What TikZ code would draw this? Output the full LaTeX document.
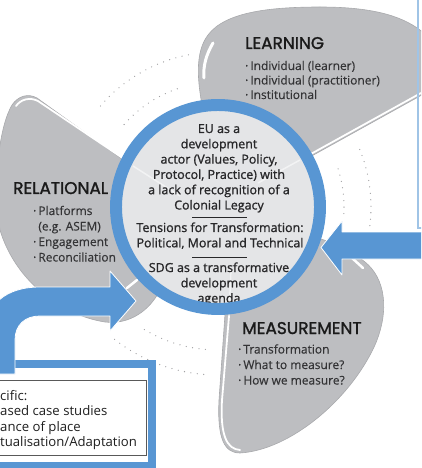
\documentclass[tikz,border=0pt]{standalone}
\usepackage{fontspec}
\setmainfont{Open Sans}
\newfontfamily\semib{Open Sans}[FakeBold=1.2]
\newfontfamily\listf{Open Sans}[FakeBold=0.3]
\newfontfamily\headf{Poppins}[FakeBold=1.5]
\definecolor{lobe}{RGB}{189,190,193}
\definecolor{lobeedge}{RGB}{168,169,172}
\definecolor{disk}{RGB}{228,229,231}
\definecolor{ringblue}{RGB}{88,150,211}
\definecolor{paleblue}{RGB}{160,196,230}
\definecolor{headtxt}{RGB}{26,26,26}
\definecolor{listtxt}{RGB}{52,52,54}
\definecolor{centtxt}{RGB}{40,40,42}
\definecolor{dotgray}{RGB}{160,160,162}
\begin{document}
\begin{tikzpicture}[x=1bp,y=1bp,
  blade/.style={fill=lobe, draw=lobeedge, line width=0.6},
  glint/.style={white, line width=1.8, line cap=round},
  dotarc/.style={dotgray, line width=1.3, line cap=round, dash pattern=on 0pt off 6.5pt},
  heading/.style={inner sep=0, anchor=base west, font=\headf\fontsize{17}{20}\selectfont, text=headtxt},
  listing/.style={inner sep=0, anchor=base west, font=\listf\fontsize{12}{14}\selectfont, text=listtxt},
  centre/.style={inner sep=0, anchor=base, font=\semib\fontsize{12.5}{14}\selectfont, text=centtxt},
  boxline/.style={inner sep=0, anchor=base west, font=\fontsize{13.2}{15}\selectfont, text=black!88},
  bigarrow/.style={fill=ringblue, draw=white, line width=0.8, line join=round}
]
\useasboundingbox (0,0) rectangle (421,-468);
\clip (0,0) rectangle (421,-468);

% dotted orbits between the blades
\coordinate (O) at (218,-207);
\draw[dotarc] ([shift={(O)}]101:155) arc[start angle=101, end angle=141, radius=155];
\draw[dotarc] ([shift={(O)}]109:125) arc[start angle=109, end angle=141, radius=125];
\draw[dotarc] ([shift={(O)}]-3:126) arc[start angle=-3, end angle=19, radius=126];
\draw[dotarc] ([shift={(O)}]-7:153) arc[start angle=-7, end angle=23, radius=153];
\draw[dotarc] ([shift={(O)}]-121:143) arc[start angle=-121, end angle=-93, radius=143];
\draw[dotarc] ([shift={(O)}]-128:168) arc[start angle=-128, end angle=-93, radius=168];

% propeller blades
\path[blade] (140,-172) -- (37,-98) .. controls (28,-93) and (18,-96) .. (12,-105)
  .. controls (0,-125) and (-8,-180) .. (0,-230) .. controls (15,-280) and (60,-315) .. (105,-322)
  .. controls (130,-325) and (150,-310) .. (160,-290) -- cycle;
\path[blade] (290,-168) -- (420,-96) .. controls (440,-85) and (440,-45) .. (420,-30)
  .. controls (400,-15) and (370,-7) .. (320,-7) .. controls (270,-7) and (225,-12) .. (208,-35)
  .. controls (195,-52) and (197,-80) .. (203,-110) -- cycle;
\path[blade] (226,-300) -- (219,-400) .. controls (217,-440) and (225,-453) .. (240,-453)
  .. controls (290,-450) and (350,-400) .. (375,-345) .. controls (390,-310) and (385,-278) .. (365,-262)
  .. controls (350,-250) and (330,-240) .. (305,-235) -- cycle;

% white highlights on the blades
\draw[glint] (133,-165) -- (38,-101) .. controls (30,-97) and (21,-99) .. (16,-106);
\draw[glint] (300,-160) -- (421,-93);
\draw[glint, line width=3] (213,-43) .. controls (206,-55) and (203,-66) .. (204,-78);
\draw[glint] (229,-316) -- (222,-400) .. controls (220,-436) and (227,-449) .. (240,-450);
\draw[glint, line width=2.5] (352,-258) -- (363,-268);
\draw[glint, line width=2.5] (127,-288) -- (137,-280);

% hub
\fill[disk] (O) circle[radius=100];
\draw[white, opacity=.55, line width=1.5] (133,-166) -- (180,-196);
\draw[white, opacity=.55, line width=1.5] (300,-160) -- (258,-183);
\draw[white, opacity=.55, line width=1.5] (229,-316) -- (231,-268);

\foreach \t [count=\i] in {EU as a, development, {actor (Values, Policy,}, {Protocol, Practice) with},
    a lack of recognition of a, Colonial Legacy}
  \node[centre] (c\i) at (219,{-133-15.3*(\i-1)}) {\t};
\foreach \t [count=\i] in {Tensions for Transformation:, {Political, Moral and Technical}}
  \node[centre] (t\i) at (220,{-232-15.3*(\i-1)}) {\t};
\foreach \t [count=\i] in {SDG as a transformative, development, agenda}
  \node[centre] (s\i) at (219,{-272-15.3*(\i-1)}) {\t};
\draw[centtxt, line width=0.9] (192,-217) -- (247,-217);
\draw[centtxt, line width=0.9] (192,-257) -- (247,-257);

\draw[ringblue, line width=12] (O) circle[radius=102];

% blade captions
\node[heading] (learn) at (245,-49) {LEARNING};
\foreach \t [count=\i] in {Individual (learner), Individual (practitioner), Institutional}
  \node[listing] (l\i) at (245,{-70-14.5*(\i-1)}) {·\hspace{2bp}\t};
\node[heading] (rel) at (13,-194) {RELATIONAL};
\node[listing] (r1) at (33,-215) {·\hspace{2bp}Platforms};
\node[listing] (r2) at (33,-230.5) {\phantom{·\hspace{2bp}}(e.g. ASEM)};
\node[listing] (r3) at (33,-246) {·\hspace{2bp}Engagement};
\node[listing] (r4) at (33,-261.5) {·\hspace{2bp}Reconciliation};
\node[heading] (meas) at (242,-334) {MEASUREMENT};
\foreach \t [count=\i] in {Transformation, What to measure?, How we measure?}
  \node[listing] (m\i) at (238,{-353.5-15.5*(\i-1)}) {·\hspace{2bp}\t};

% edge of the neighbouring panel
\draw[paleblue, line width=1.3] (418,0) -- (418,-228) -- (425,-228);

% arrow from the right
\path[bigarrow] (425,-232) -- (342,-232) -- (342,-221) -- (321,-247.5) -- (342,-275)
  -- (342,-259) -- (425,-259) -- cycle;

% context box
\draw[ringblue, line width=8, fill=white] (-10,-364) rectangle (152,-466);
\draw[black!65, line width=1] (-10,-380) rectangle (146,-455);
\foreach \t [count=\i] in {cific:, ased case studies, ance of place, tualisation/Adaptation}
  \node[boxline] (b\i) at (0,{-400-15.5*(\i-1)}) {\t};

% bent arrow from the box
\path[bigarrow] (-15,-374) -- (-15,-335) .. controls (-15,-305) and (5,-287) .. (40,-287)
  -- (110,-287) -- (110,-271) -- (136,-301) -- (110,-331) -- (110,-316) -- (40,-316)
  .. controls (25,-316) and (15,-325) .. (15,-340) -- (15,-374) -- cycle;
\end{tikzpicture}
\end{document}
